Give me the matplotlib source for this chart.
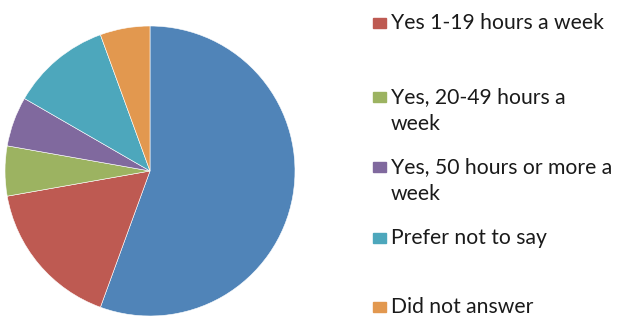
"""
Pie chart: hours a week (survey responses), legend on the right.
"""
import matplotlib.pyplot as plt
from matplotlib.patches import Rectangle

labels = ["No", "Yes 1-19 hours a week", "Yes, 20-49 hours a\nweek",
          "Yes, 50 hours or more a\nweek", "Prefer not to say", "Did not answer"]
counts = [10, 3, 1, 1, 2, 1]
colors = ["#5084B8", "#BE5A52", "#9CB361", "#80699E", "#4DA7BC", "#E2984F"]

W, H = 619, 317
fig = plt.figure(figsize=(W / 100, H / 100), dpi=100)

# pie centre (150, 171) px from top-left, radius 145 px
cx, cy, r = 150, H - 171, 145
ax = fig.add_axes([(cx - r) / W, (cy - r) / H, 2 * r / W, 2 * r / H])
ax.pie(counts, colors=colors, startangle=90, counterclock=False,
       wedgeprops=dict(edgecolor="white", linewidth=0.4))
ax.set_xlim(-1, 1)
ax.set_ylim(-1, 1)
ax.set_aspect("equal")
ax.axis("off")

# ── legend (first entry falls outside the visible area) ──
y_rows = [23, 97, 167, 238, 307]
for lab, col, y in zip(labels[1:], colors[1:], y_rows):
    fig.patches.append(Rectangle((373 / W, (H - y - 5) / H), 13 / W, 10 / H,
                                 transform=fig.transFigure, color=col))
    fig.text(391 / W, (H - y + 10) / H, lab, fontsize=15.2, family="Lato",
             va="top", ha="left", linespacing=1.45,
             transform=fig.transFigure, color="#1a1a1a")

fig.savefig("out.png", dpi=100)
